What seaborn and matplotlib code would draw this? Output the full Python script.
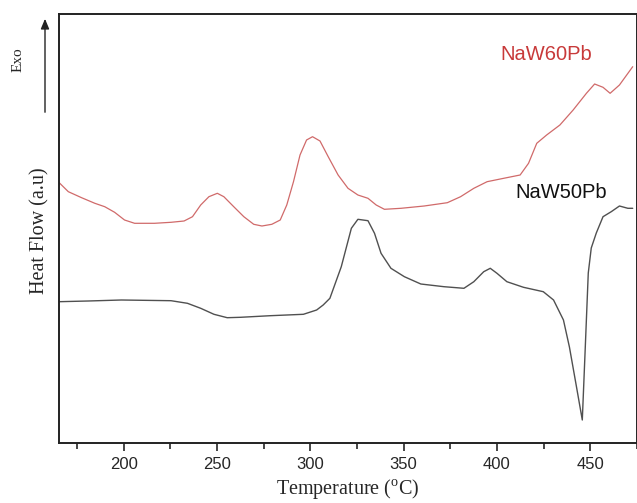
import matplotlib
matplotlib.use("Agg")
import matplotlib.pyplot as plt
import seaborn as sns
import pandas as pd

# NaW60Pb trace (red)
t_60 = [165.4, 170.4, 177.5, 184.6, 189.9, 195.2, 200.5, 205.9, 216.5, 225.4,
        232.4, 236.9, 241.3, 245.7, 250.2, 253.7, 259.0, 264.4, 269.7, 274.1,
        279.4, 283.9, 287.4, 291.0, 294.5, 298.0, 301.2, 305.2, 309.6, 314.9,
        320.2, 325.5, 330.9, 335.3, 339.7, 348.6, 361.0, 373.4, 380.5, 387.6,
        394.7, 403.6, 412.4, 416.9, 421.3, 426.6, 433.7, 440.8, 447.9, 452.3,
        456.8, 460.6, 465.6, 472.7]
h_60 = [260.5, 251.3, 245.3, 239.7, 236.3, 230.7, 223.0, 219.7, 219.7, 220.7,
        222.0, 226.3, 238.0, 246.3, 249.7, 246.3, 236.3, 226.3, 218.7, 217.0,
        218.7, 223.0, 238.0, 261.3, 288.0, 303.0, 306.3, 302.0, 286.3, 268.0,
        254.7, 248.0, 244.7, 238.0, 233.7, 234.7, 237.0, 240.3, 246.3, 254.7,
        261.3, 264.7, 268.0, 279.7, 299.7, 308.0, 318.0, 333.0, 349.7, 359.0,
        355.7, 349.7, 358.0, 376.3]

# NaW50Pb trace (black)
t_50 = [165.4, 181.0, 198.8, 225.4, 234.2, 241.3, 248.4, 255.5, 262.6, 278.6,
        296.3, 303.4, 306.9, 310.5, 316.6, 322.0, 325.5, 330.9, 334.4, 337.9,
        343.2, 350.4, 359.2, 371.6, 382.3, 387.6, 392.9, 396.4, 400.0, 405.3,
        414.2, 424.8, 430.3, 435.6, 438.8, 442.6, 445.7, 447.3, 448.9, 450.5,
        453.2, 456.8, 461.2, 465.6, 470.1, 472.7]
h_50 = [141.3, 142.0, 143.0, 142.3, 139.7, 134.7, 128.7, 125.3, 125.7, 127.3,
        128.7, 133.0, 138.0, 144.7, 176.3, 214.7, 223.7, 222.3, 209.7, 189.7,
        174.7, 166.3, 159.0, 156.3, 154.7, 161.3, 171.3, 174.7, 169.7, 161.3,
        155.7, 151.3, 143.0, 123.0, 96.0, 56.0, 23.0, 96.0, 170.0, 195.0,
        210.0, 226.3, 231.3, 237.0, 234.7, 234.7]

xticks = [200, 250, 300, 350, 400, 450]
minor_xticks = [175, 225, 275, 325, 375, 425, 475]

df60 = pd.DataFrame({"Temperature": t_60, "HeatFlow": h_60})
df50 = pd.DataFrame({"Temperature": t_50, "HeatFlow": h_50})

sns.set_style("white")
plt.rcParams["mathtext.fontset"] = "custom"
plt.rcParams["mathtext.rm"] = "Liberation Serif"

fig = plt.figure(figsize=(6.37, 5.03), dpi=100)
ax = fig.add_axes([59 / 637, 1 - 443 / 503, 1 - 59 / 637, (443 - 14) / 503])

sns.lineplot(data=df60, x="Temperature", y="HeatFlow", ax=ax, color="#d06a6a",
             linewidth=0.9, sort=False, estimator=None)
sns.lineplot(data=df50, x="Temperature", y="HeatFlow", ax=ax, color="#505050",
             linewidth=1.0, sort=False, estimator=None)

ax.set_xlim(165.4, 473.4)
ax.set_ylim(0, 429)
ax.set_xticks(xticks)
ax.set_xticks(minor_xticks, minor=True)
ax.set_yticks([])
ax.tick_params(axis="x", which="major", direction="out", length=6, width=1.2,
               labelsize=12, pad=4, bottom=True)
ax.tick_params(axis="x", which="minor", direction="out", length=4, width=1.2,
               bottom=True)
for lab in ax.get_xticklabels():
    lab.set_fontfamily("Liberation Sans")

for side in ["left", "top", "bottom", "right"]:
    ax.spines[side].set_linewidth(1.4)
    ax.spines[side].set_color("#222222")

ax.set_xlabel("Temperature ($^{\\rm o}$C)", fontsize=14.5,
              fontfamily="Liberation Serif", labelpad=4)
ax.set_ylabel("")
fig.text(40 / 637, 1 - 231 / 503, "Heat Flow (a.u)", rotation=90, fontsize=14.5,
         fontfamily="Liberation Serif", ha="center", va="center")

# Exo arrow
fig.text(18 / 637, 1 - 60 / 503, "Exo", rotation=90, fontsize=11,
         fontfamily="Liberation Serif", ha="center", va="center")
fig.add_artist(matplotlib.patches.FancyArrowPatch(
    (45 / 637, 1 - 115 / 503), (45 / 637, 1 - 16 / 503),
    transform=fig.transFigure, arrowstyle="-|>,head_length=6,head_width=2.5",
    color="#222222", linewidth=1.0, mutation_scale=1))

ax.text(426.5, 388, "NaW60Pb", color="#c83a3a", fontsize=14.5,
        fontfamily="Liberation Sans", ha="center", va="center")
ax.text(434.5, 251, "NaW50Pb", color="#111111", fontsize=14.5,
        fontfamily="Liberation Sans", ha="center", va="center")

fig.savefig("out.png", dpi=100)
